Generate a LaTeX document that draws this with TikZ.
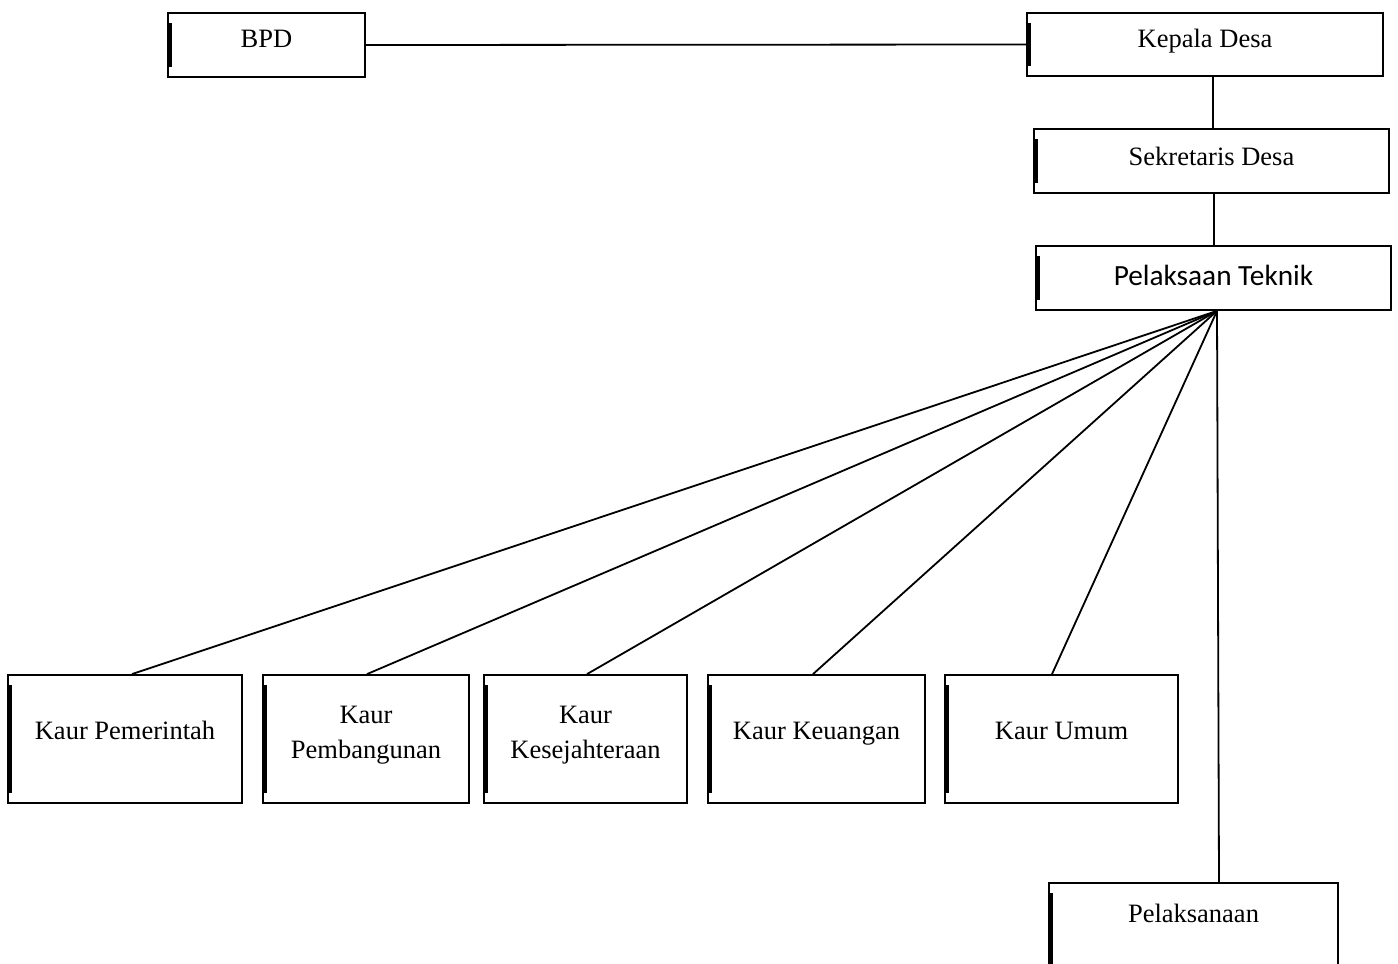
\documentclass[tikz,border=0pt]{standalone}
\usepackage{fontspec}
\setmainfont{Liberation Serif}
\newfontfamily\calib{Carlito}
\begin{document}
\begin{tikzpicture}[x=1pt,y=-1pt,
  box/.style={draw, line width=1.8pt, inner sep=0pt, align=center,
    text height=8pt, text depth=8pt,
    font=\fontsize{26.5}{35}\selectfont,
    path picture={\fill ([yshift=-10pt]path picture bounding box.north west) rectangle ([xshift=3.5pt,yshift=10pt]path picture bounding box.south west);}},
  twoline/.style={text height=46pt, text depth=8pt},
  conn/.style={line width=1.8pt}]
\path[use as bounding box, clip] (0,0) rectangle (1398,964);

\node[box, minimum width=197pt, minimum height=64pt, text height=10pt, text depth=6pt] (bpd) at (266.5,45) {BPD};
\node[box, minimum width=356pt, minimum height=63pt, text height=11pt, text depth=6pt] (kd) at (1205,44.5) {Kepala Desa};
\node[box, minimum width=355pt, minimum height=64pt, text height=12pt, text depth=4pt] (sd) at (1211.5,161) {Sekretaris Desa};
\node[box, minimum width=355pt, minimum height=64pt, text height=15pt, text depth=1pt, font=\calib\fontsize{29.3}{32}\selectfont] (pt) at (1213.5,278) {Pelaksaan Teknik};

\node[box, minimum width=234pt, minimum height=128pt] (k1) at (125,739) {Kaur Pemerintah};
\node[box, twoline, minimum width=206pt, minimum height=128pt] (k2) at (366,739) {Kaur\\Pembangunan};
\node[box, twoline, minimum width=203pt, minimum height=128pt] (k3) at (585.5,739) {Kaur\\Kesejahteraan};
\node[box, minimum width=217pt, minimum height=128pt] (k4) at (816.5,739) {Kaur Keuangan};
\node[box, minimum width=233pt, minimum height=128pt] (k5) at (1061.5,739) {Kaur Umum};
\node[box, minimum width=289pt, minimum height=128pt, text height=19pt, text depth=69pt] (pel) at (1193.5,947) {Pelaksanaan};

\draw[conn] (bpd.east) -- (kd.west);
\draw[conn] ([xshift=8pt]kd.south) -- ([xshift=8pt]kd.south |- sd.north);
\draw[conn] ([xshift=2.5pt]sd.south) -- ([xshift=2.5pt]sd.south |- pt.north);
\coordinate (hub) at ([xshift=3.5pt]pt.south);
\draw[conn] (hub) -- ([xshift=7pt]k1.north);
\draw[conn] (hub) -- ([xshift=1pt]k2.north);
\draw[conn] (hub) -- ([xshift=1.5pt]k3.north);
\draw[conn] (hub) -- ([xshift=-3.5pt]k4.north);
\draw[conn] (hub) -- ([xshift=-9.5pt]k5.north);
\draw[conn] (hub) -- ([xshift=25.5pt]pel.north);
\end{tikzpicture}
\end{document}
